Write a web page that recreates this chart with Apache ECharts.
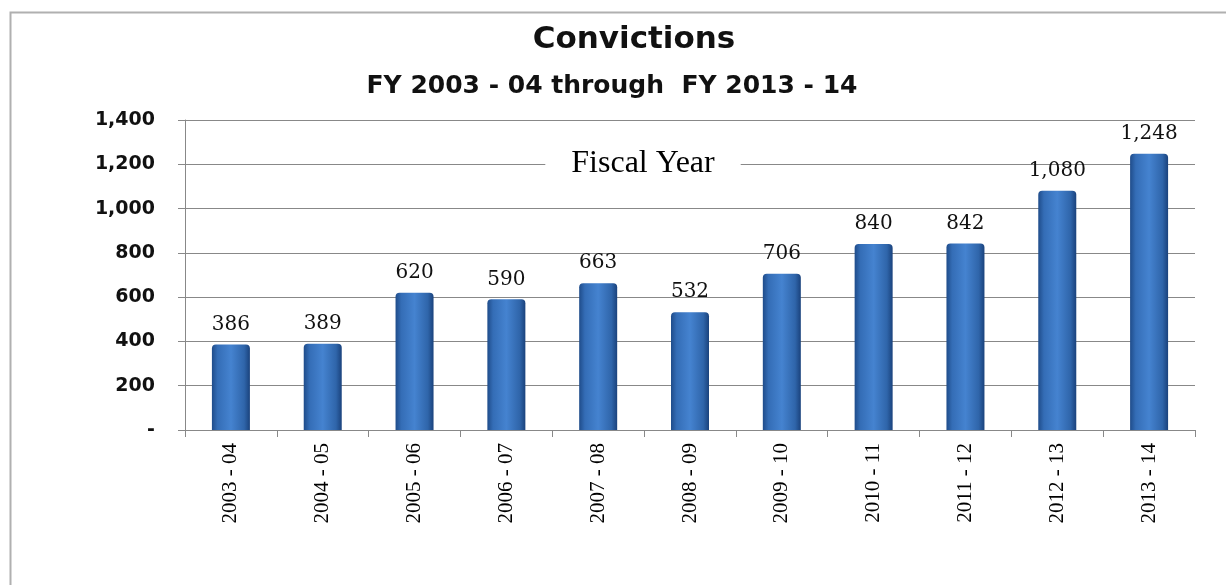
<!DOCTYPE html>
<html>
<head>
<meta charset="utf-8">
<style>html,body{margin:0;padding:0;background:#fff;}#c{width:1226px;height:585px;}</style>
<script src="https://cdn.jsdelivr.net/npm/echarts@6/dist/echarts.min.js"></script>
</head>
<body>
<div id="c"></div>
<script>
var categories = ['2003 - 04','2004 - 05','2005 - 06','2006 - 07','2007 - 08','2008 - 09','2009 - 10','2010 - 11','2011 - 12','2012 - 13','2013 - 14'];
var convictions = [386, 389, 620, 590, 663, 532, 706, 840, 842, 1080, 1248];
var yTicks = [0, 200, 400, 600, 800, 1000, 1200, 1400];

var chart = echarts.init(document.getElementById('c'));
var fmt = function (v) { return v === 0 ? '-' : v.toLocaleString('en-US'); };
chart.setOption({
  animation: false,
  backgroundColor: '#fff',
  graphic: [{
    type: 'rect', left: 8, top: 10, z: -1,
    shape: { width: 1240, height: 600 },
    style: { fill: 'none', stroke: '#b0b0b0', lineWidth: 2 }
  }],
  title: [
    { text: 'Convictions', left: 629, top: 19, textAlign: 'center',
      textStyle: { fontFamily: 'DejaVu Sans', fontWeight: 'bold', fontSize: 31, color: '#111' } },
    { text: 'FY 2003 - 04 through  FY 2013 - 14', left: 607, top: 69, textAlign: 'center',
      textStyle: { fontFamily: 'DejaVu Sans', fontWeight: 'bold', fontSize: 25, color: '#111' } },
    { text: 'Fiscal Year', left: 617, top: 146, textAlign: 'center', backgroundColor: '#fff',
      padding: [0, 26, 0, 26],
      textStyle: { fontFamily: 'Liberation Serif', fontWeight: 'normal', fontSize: 32, color: '#000', lineHeight: 36 }, z: 10 }
  ],
  grid: { left: 185, right: 31, top: 120, bottom: 155, containLabel: false },
  xAxis: {
    type: 'category', data: categories,
    axisLine: { lineStyle: { color: '#888', width: 1 } },
    axisTick: { show: true, length: 7, lineStyle: { color: '#888' } },
    axisLabel: { rotate: 90, margin: 13, fontFamily: 'Liberation Serif', fontSize: 21, color: '#000' }
  },
  yAxis: {
    type: 'value', min: 0, max: 1400, interval: 200,
    axisLine: { show: true, lineStyle: { color: '#888', width: 1 } },
    axisTick: { show: true, length: 7, lineStyle: { color: '#888' } },
    splitLine: { lineStyle: { color: '#888', width: 1 } },
    axisLabel: { margin: 30, fontFamily: 'DejaVu Sans', fontWeight: 'bold', fontSize: 19, color: '#111',
      formatter: function (v) { return yTicks.indexOf(v) >= 0 ? fmt(v) : ''; } }
  },
  series: [{
    type: 'bar', data: convictions, barWidth: 38,
    itemStyle: {
      color: new echarts.graphic.LinearGradient(0, 0, 1, 0, [
        { offset: 0, color: '#1f4c8a' },
        { offset: 0.15, color: '#346db6' },
        { offset: 0.5, color: '#4583d0' },
        { offset: 0.85, color: '#2f65aa' },
        { offset: 1, color: '#1a427c' }
      ]),
      borderRadius: [4, 4, 0, 0]
    },
    label: { show: true, position: 'top', distance: 10, formatter: function (p) { return fmt(p.value); },
      fontFamily: 'DejaVu Serif', fontSize: 20, color: '#111' }
  }]
});
</script>
</body>
</html>
